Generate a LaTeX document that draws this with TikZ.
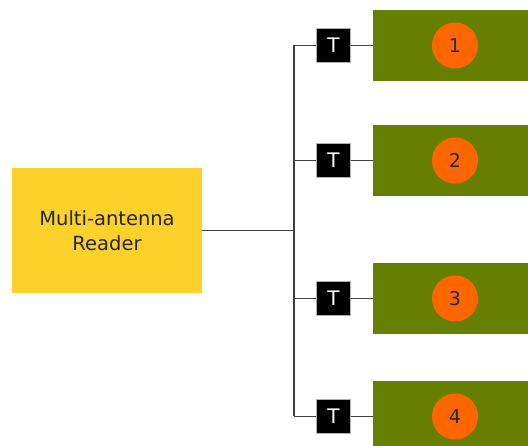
\documentclass[tikz,border=0pt]{standalone}
\usepackage{fontspec}
\setmainfont{DejaVu Sans}
\definecolor{readerY}{HTML}{FCD12A}
\definecolor{tagG}{HTML}{667F00}
\definecolor{chipO}{HTML}{FF6600}
\definecolor{wireC}{HTML}{404040}
\begin{document}
\begin{tikzpicture}[x=1pt,y=-1pt,
  reader/.style={fill=readerY,draw=none,minimum width=190pt,minimum height=125pt,inner sep=0pt,align=center,font=\fontsize{19.5}{25}\selectfont,text=black!85},
  tagbox/.style={fill=tagG,draw=none,minimum width=160pt,minimum height=71pt,inner sep=0pt},
  chip/.style={circle,fill=chipO,draw=none,minimum size=46pt,inner sep=0pt,font=\fontsize{19}{19}\selectfont,text=black!85},
  tbox/.style={fill=black,draw=gray!60,line width=0.4pt,minimum size=34pt,inner sep=0pt,text=white,font=\fontsize{20}{20}\selectfont},
  wire/.style={draw=wireC,line width=1.3pt}]
\useasboundingbox (0,0) rectangle (528,446);
\clip (0,0) rectangle (528,446);
\node[reader] (r) at (107,230.5) {Multi-antenna\\Reader};
\coordinate (bj) at (294,230.5);
\foreach \i/\y in {1/45.5,2/160.5,3/298.5,4/416.5}{
  \node[tagbox,anchor=west] (g\i) at (373,\y) {};
  \node[chip] (c\i) at (455,\y) {\i};
  \node[tbox] (t\i) at (333.5,\y) {T};
  \coordinate (b\i) at (294,\y);
  \draw[wire] (b\i) -- (t\i.west);
  \draw[wire] (t\i.east) -- (g\i.west);
}
\draw[wire] (b1) -- (b4);
\draw[wire] (r.east) -- (bj);
\end{tikzpicture}
\end{document}
